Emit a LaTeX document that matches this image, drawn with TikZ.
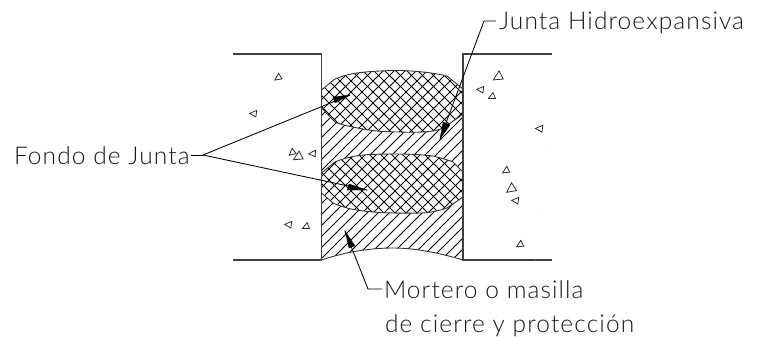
\documentclass[tikz,border=0pt]{standalone}
\usepackage{fontspec}
\setmainfont[LetterSpace=4.5]{Lato Light}
\tikzset{
  wall/.style={draw=black!75,line width=1.1pt},
  outline/.style={draw=black!80,line width=0.9pt},
  hatch/.style={draw=black,line width=0.85pt},
  lead/.style={draw=black,line width=0.85pt},
  head/.style={fill=black,draw=black,line width=0.3pt},
  tri/.style={draw=black!85,line width=0.75pt,fill=white},
  label/.style={inner sep=0pt,outer sep=0pt,anchor=base west,font=\fontsize{24.5}{29}\selectfont,text=black!90},
  speck/.style={fill=black!25,draw=none}
}
\newcommand{\upperblob}{(321.5,90) -- (335,79) .. controls (342,76) and (350,74) .. (357,73) .. controls (372,71) and (388,70.5) .. (400,70.5) .. controls (418,71) and (435,73) .. (447,76) -- (463,89) -- (463,114) -- (445,127) .. controls (441,129) and (437,130.5) .. (433,131) .. controls (422,132.5) and (410,132.5) .. (400,132) .. controls (385,132) and (373,131) .. (363,129) .. controls (352,127) and (342,125) .. (335,122) -- (321.5,108) -- cycle}
\newcommand{\lowerblob}{(321.5,173) -- (335,162) .. controls (344,158) and (354,156) .. (363,155) .. controls (375,154) and (388,154) .. (400,154) .. controls (412,154) and (424,155) .. (433,156) .. controls (441,158) and (448,160) .. (453,162) -- (463,172) -- (463,197) -- (447,208) .. controls (438,211) and (429,213) .. (420,213) .. controls (405,213.5) and (388,213) .. (373,212) .. controls (363,211) and (354,210) .. (347,208) .. controls (341,206) and (337,205) .. (333,203) -- (321.5,193) -- cycle}
\begin{document}
\begin{tikzpicture}[x=1pt,y=-1pt]
\useasboundingbox (0,0) rectangle (763,337);
% mortar hatch (below the upper seal only)
\begin{scope}
\clip (321.5,100) -- (463,100) -- (463,260) .. controls (440,253) and (415,248) .. (393,248) .. controls (370,248) and (345,252) .. (321.5,260) -- cycle;
\foreach \k in {0,...,40} \draw[hatch] ({90+\k*11},270) -- ++(230,-230);
\end{scope}
% blobs
\foreach \b in {\upperblob,\lowerblob}{
  \fill[white] \b;
  \begin{scope}
    \clip \b;
    \foreach \k in {0,...,36} {
      \draw[hatch] ({250+\k*11},50) -- ++(-200,200);
      \draw[hatch] ({100+\k*11},50) -- ++(200,200);
    }
  \end{scope}
  \draw[outline] \b;
}
% mortar curve
\draw[outline] (321.5,260) .. controls (345,252) and (370,248) .. (393,248) .. controls (415,248) and (440,253) .. (463,260);
% walls
\draw[wall] (233,54) -- (321.5,54) -- (321.5,260) -- (233,260);
\draw[wall] (552,54) -- (463,54) -- (463,260) -- (552,260);
% aggregates
\foreach \x/\y/\s/\r in {278/77/3.6/10,254/113/3.6/-30,292/152/3.6/15,298/156/4.8/5,313/153/3.6/-25,289/224/3.6/-30,306/226/3.4/0,498/76/5/5,481/89/3.6/-30,492/96/3.4/0,540/128/3.8/-30,506/170/3.6/5,511/188/5/10,516/200/3.6/-30,520/244/3.6/5}
  \draw[tri,rotate around={\r:(\x,\y)}] (\x-\s,\y+\s*.7) -- (\x+\s,\y+\s*.7) -- (\x+\s*.3,\y-\s) -- cycle;
% specks
\foreach \x/\y in {240/70,262/60,300/75,257/88,245/130,310/108,262/165,250/190,270/245,300/200,500/60,520/64,530/90,510/115,485/140,545/150,490/210,540/215,535/260,480/235,530/180,476/170}
  \fill[speck] (\x,\y) circle (0.5);
% labels
\node[label] (fondo) at (14,164) {Fondo de Junta};
\node[label] (junta) at (499,30) {Junta Hidroexpansiva};
\node[label] (mortero) at (384,298) {Mortero o masilla};
\node[label] (cierre) at (385,332) {de cierre y protección};
% leaders
\coordinate (fk) at (203,155);
\coordinate (ft1) at (350,95);
\coordinate (ft2) at (367,190);
\coordinate (jk) at (484,21);
\coordinate (jt) at (440,139);
\coordinate (mk) at (368,289);
\coordinate (mt) at (345,231);
\draw[lead] (fondo.base east |- fk) ++(1,0) -- (fk);
\draw[lead] (fk) -- (ft1);
\draw[lead] (fk) -- (ft2);
\draw[lead] (junta.base west |- jk) ++(-3,0) -- (jk) -- (jt);
\draw[lead] (mortero.base west |- mk) ++(-2,0) -- (mk) -- (mt);
\fill[head] (ft1) -- (333,97) -- (335,103) -- cycle;
\fill[head] (ft2) -- (349,184) -- (347,190) -- cycle;
\fill[head] (jt) -- (443,122) -- (450,125) -- cycle;
\fill[head] (mt) -- (349,248) -- (355,246) -- cycle;
\end{tikzpicture}
\end{document}
